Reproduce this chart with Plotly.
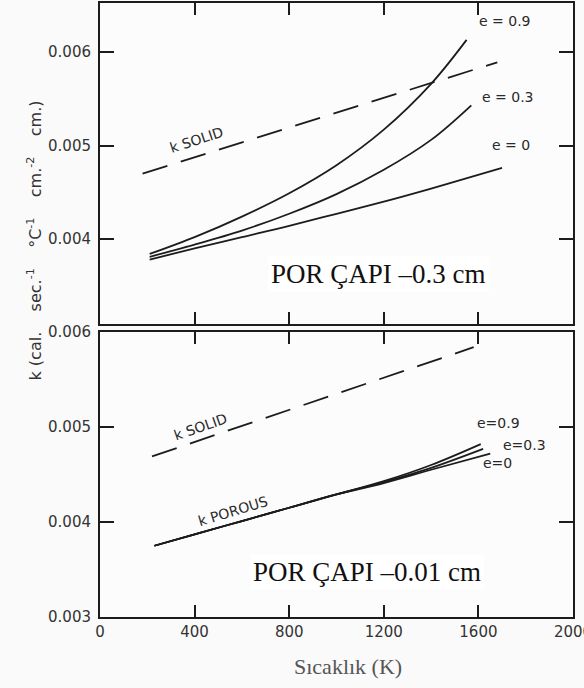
import plotly.graph_objects as go

W, H = 584, 688

# ---- data: thermal conductivity k vs temperature (K) ----
# upper panel: pore diameter 0.3 cm
t_top_e09 = [210, 400, 600, 800, 1000, 1200, 1400, 1550]
k_top_e09 = [0.00384, 0.00402, 0.00424, 0.00449, 0.00479, 0.00517, 0.00566, 0.00613]
t_top_e03 = [210, 400, 600, 800, 1000, 1200, 1400, 1570]
k_top_e03 = [0.00381, 0.00394, 0.00409, 0.00427, 0.00448, 0.00474, 0.00506, 0.00543]
t_top_e0 = [210, 400, 600, 800, 1000, 1200, 1400, 1700]
k_top_e0 = [0.00378, 0.00390, 0.00402, 0.00414, 0.00427, 0.00440, 0.00454, 0.00476]
t_top_solid = [180, 1680]
k_top_solid = [0.00470, 0.00589]

# lower panel: pore diameter 0.01 cm
t_bot_e09 = [230, 400, 600, 800, 1000, 1200, 1400, 1610]
k_bot_e09 = [0.00375, 0.00387, 0.00401, 0.00415, 0.00429, 0.00443, 0.00460, 0.00482]
t_bot_e03 = [230, 400, 600, 800, 1000, 1200, 1400, 1620]
k_bot_e03 = [0.00375, 0.00387, 0.00401, 0.00415, 0.00429, 0.00442, 0.00457, 0.00477]
t_bot_e0 = [230, 400, 600, 800, 1000, 1200, 1400, 1650]
k_bot_e0 = [0.00375, 0.00387, 0.00401, 0.00415, 0.00429, 0.00441, 0.00455, 0.00472]
t_bot_solid = [220, 1580]
k_bot_solid = [0.00469, 0.00584]

x_ticks = [0, 400, 800, 1200, 1600, 2000]
y_ticks_top = [0.004, 0.005, 0.006]
y_ticks_bot = [0.003, 0.004, 0.005, 0.006]

INK = "#1c1c1c"
TICKFONT = dict(family="DejaVu Sans", size=15, color="#333333")


def px(x):
    return x / W


def py(y):
    return 1 - y / H


fig = go.Figure()

solid_line = dict(color=INK, width=1.8)
dash_line = dict(color=INK, width=1.8, dash="26px,14px")

for t, k in [(t_top_e09, k_top_e09), (t_top_e03, k_top_e03), (t_top_e0, k_top_e0)]:
    fig.add_trace(go.Scatter(x=t, y=k, mode="lines", line=dict(**solid_line, shape="spline", smoothing=1.0),
                             xaxis="x2", yaxis="y2", showlegend=False, hoverinfo="skip"))
fig.add_trace(go.Scatter(x=t_top_solid, y=k_top_solid, mode="lines", line=dash_line,
                         xaxis="x2", yaxis="y2", showlegend=False, hoverinfo="skip"))

for t, k in [(t_bot_e09, k_bot_e09), (t_bot_e03, k_bot_e03), (t_bot_e0, k_bot_e0)]:
    fig.add_trace(go.Scatter(x=t, y=k, mode="lines", line=dict(**solid_line, shape="spline", smoothing=1.0),
                             xaxis="x", yaxis="y", showlegend=False, hoverinfo="skip"))
fig.add_trace(go.Scatter(x=t_bot_solid, y=k_bot_solid, mode="lines", line=dash_line,
                         xaxis="x", yaxis="y", showlegend=False, hoverinfo="skip"))

axis_common = dict(showline=True, linewidth=2, linecolor=INK, mirror="ticks",
                   ticks="inside", tickwidth=1.5, tickcolor=INK,
                   showgrid=False, zeroline=False, tickfont=TICKFONT, automargin=False)

x_dom = [px(100), px(573)]

fig.update_layout(
    width=W, height=H,
    margin=dict(l=0, r=0, t=0, b=0, pad=0, autoexpand=False),
    paper_bgcolor="#fafafa",
    plot_bgcolor="#fcfcfc",
    showlegend=False,
    xaxis=dict(domain=x_dom, range=[0, 2000], tickvals=x_ticks, ticklen=12,
               ticklabeloverflow="allow", anchor="y", **axis_common),
    yaxis=dict(domain=[py(617), py(332)], range=[0.003, 0.006], tickvals=y_ticks_bot,
               tickformat=".3f", ticklen=14, ticklabelstandoff=4, anchor="x", **axis_common),
    xaxis2=dict(domain=x_dom, range=[0, 2000], tickvals=x_ticks, ticklen=12,
                showticklabels=False, anchor="y2", **axis_common),
    yaxis2=dict(domain=[py(324), py(3)], range=[0.003091, 0.006524], tickvals=y_ticks_top,
                tickformat=".3f", ticklen=14, ticklabelstandoff=4, anchor="x2", **axis_common),
)

label_font = dict(family="DejaVu Sans", size=14, color="#2a2a2a")
annotations = [
    # curve labels, upper panel
    dict(text="e = 0.9", x=px(505), y=py(21)),
    dict(text="e = 0.3", x=px(508), y=py(97)),
    dict(text="e = 0", x=px(511), y=py(145)),
    dict(text="k SOLID", x=px(196), y=py(140), textangle=-18),
    # curve labels, lower panel
    dict(text="e=0.9", x=px(498), y=py(423)),
    dict(text="e=0.3", x=px(524), y=py(445)),
    dict(text="e=0", x=px(497), y=py(463)),
    dict(text="k SOLID", x=px(200), y=py(427), textangle=-19),
    dict(text="k POROUS", x=px(233), y=py(511), textangle=-17),
]
for a in annotations:
    fig.add_annotation(xref="paper", yref="paper", showarrow=False,
                       xanchor="center", yanchor="middle", font=label_font, **a)

# panel captions
serif = dict(family="Liberation Serif", size=27, color="#111111")
fig.add_annotation(text="POR ÇAPI –0.3 cm", x=px(378), y=py(274), xref="paper", yref="paper",
                   showarrow=False, font=serif, bgcolor="#ffffff", borderpad=2)
fig.add_annotation(text="POR ÇAPI –0.01 cm", x=px(367), y=py(590), xref="paper", yref="paper",
                   showarrow=False, font=serif, bgcolor="#ffffff", borderpad=2)

# axis titles
fig.add_annotation(text="Sıcaklık (K)", x=px(348), y=py(681), xref="paper", yref="paper",
                   showarrow=False, font=dict(family="Liberation Serif", size=22, color="#555555"))
NB = "\u00a0"
GAP = NB * 4
fig.add_annotation(text=f"k (cal.{GAP}sec.<sup>-1</sup>{GAP}°C<sup>-1</sup>{GAP}cm.<sup>-2</sup>{GAP}cm.)",
                   x=px(22), y=py(241), xref="paper", yref="paper", textangle=-90,
                   showarrow=False, font=dict(family="DejaVu Sans", size=16, color="#333333"))

fig.write_html("out.html")
